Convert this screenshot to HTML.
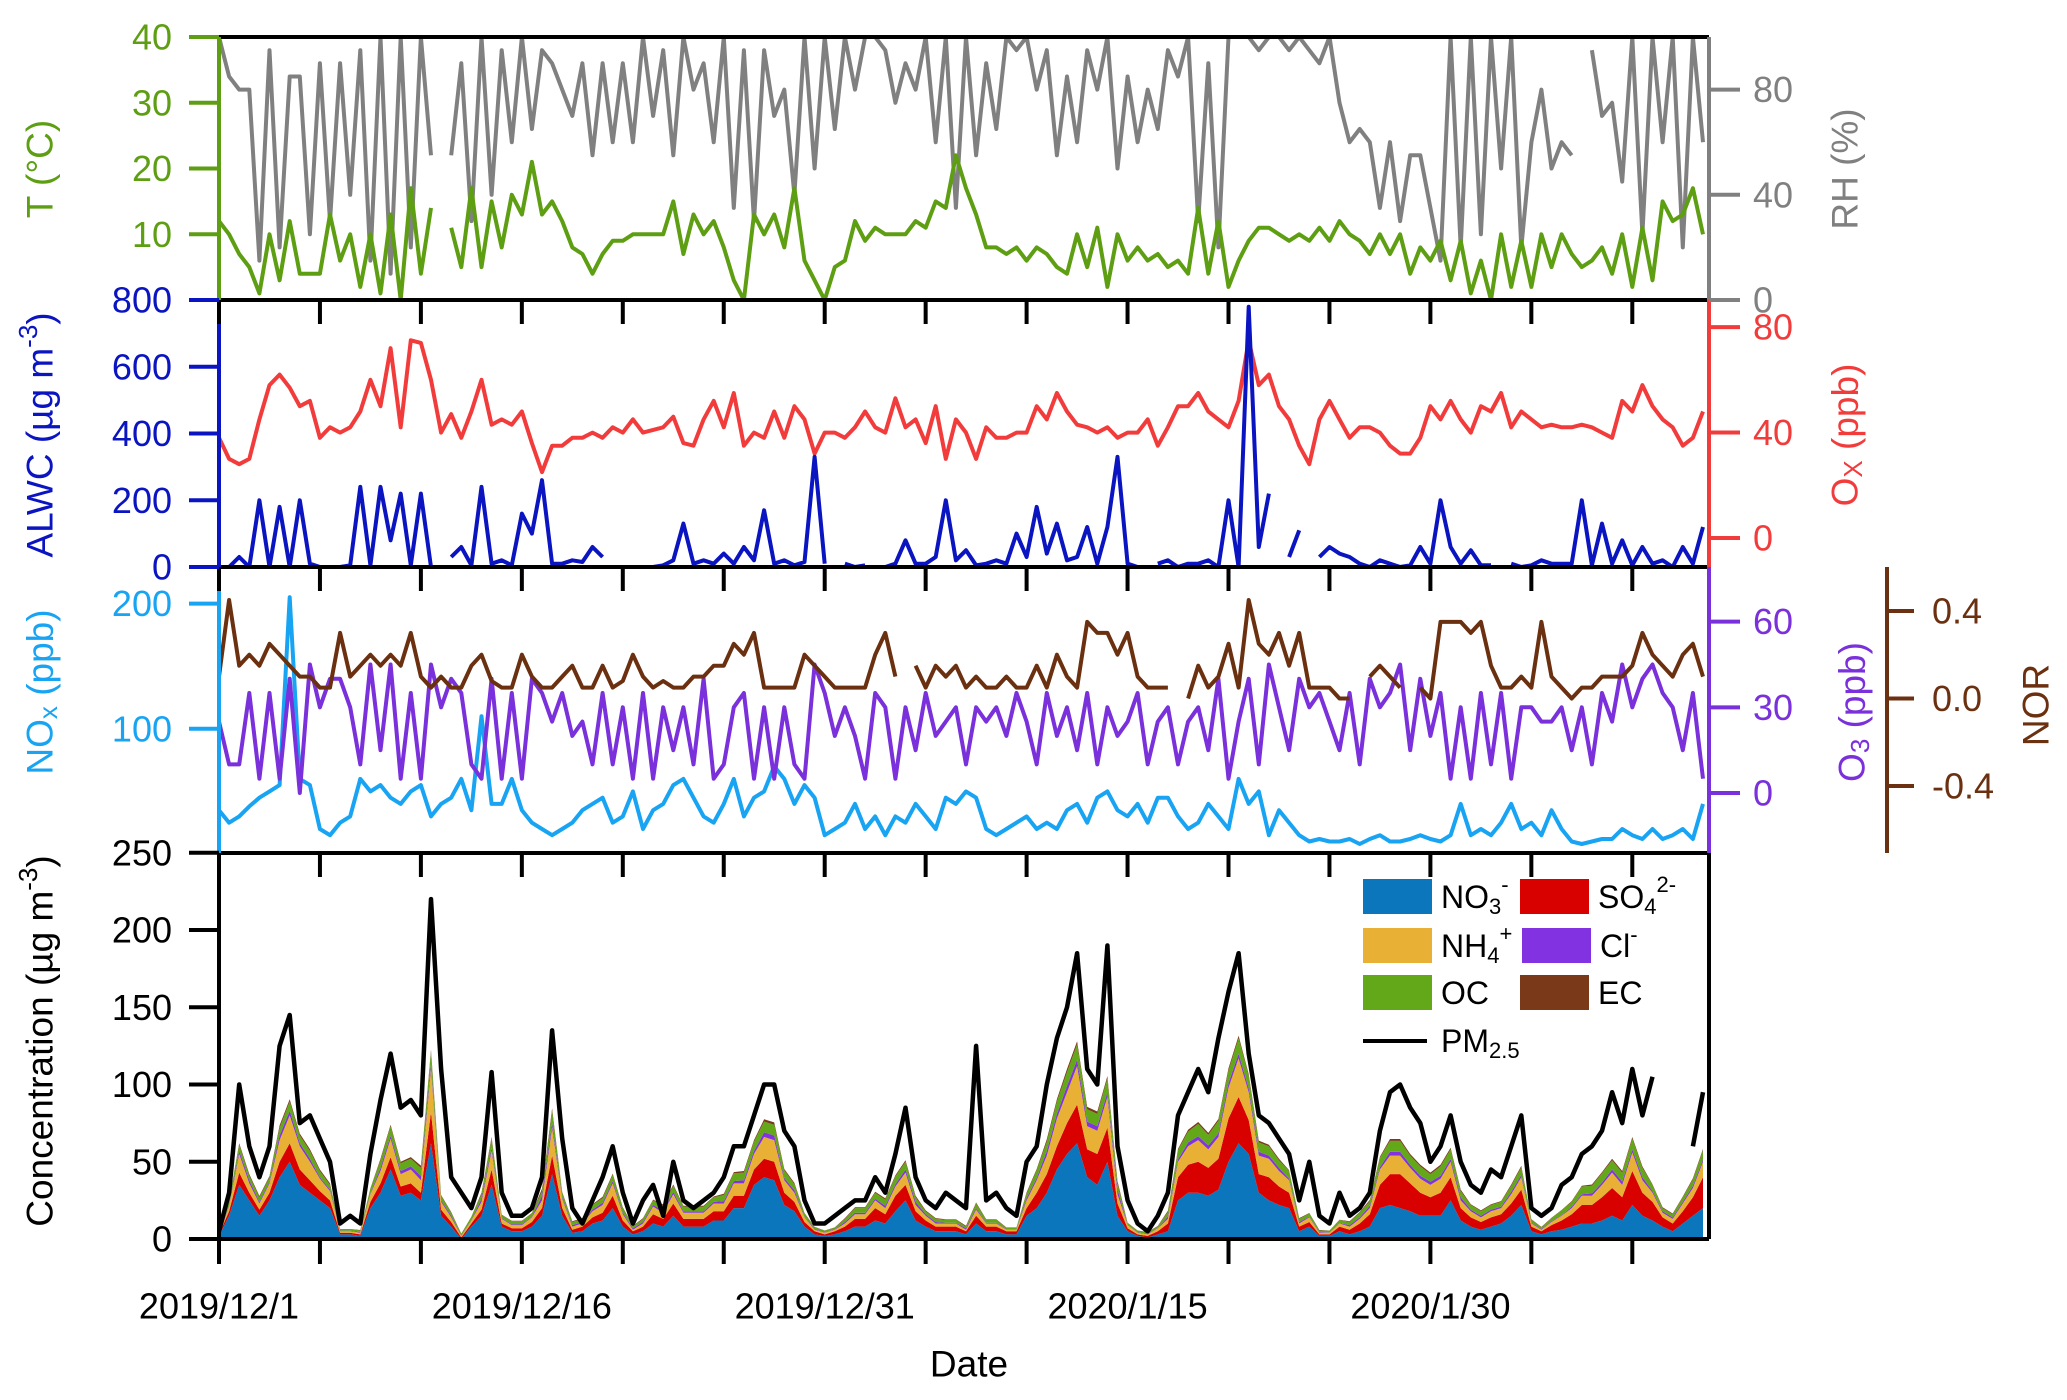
<!DOCTYPE html>
<html><head><meta charset="utf-8">
<style>
html,body{margin:0;padding:0;background:#fff;}
svg{display:block;font-family:"Liberation Sans",Arial,sans-serif;}
</style></head>
<body>
<svg id="chart" width="2067" height="1400" viewBox="0 0 2067 1400" xmlns="http://www.w3.org/2000/svg">
<defs>
<clipPath id="c1"><rect x="219" y="37" width="1490" height="263"/></clipPath>
<clipPath id="c2"><rect x="219" y="300" width="1490" height="267"/></clipPath>
<clipPath id="c3"><rect x="219" y="567" width="1490" height="286"/></clipPath>
<clipPath id="c4"><rect x="219" y="853" width="1490" height="386"/></clipPath>
</defs>
<g id="series"></g>
<g id="axes"></g>
</svg>
<script>
const tempC=[12,10,7,5,1,10,3,12,4,4,4,13,6,10,2,10,1,13,0,17,4,14,null,11,5,17,5,15,8,16,13,21,13,15,12,8,7,4,7,9,9,10,10,10,10,15,7,13,10,12,8,3,0,13,10,13,8,17,6,3,0,5,6,12,9,11,10,10,10,12,11,15,14,22,17,13,8,8,7,8,6,8,7,5,4,10,5,11,2,10,6,8,6,7,5,6,4,14,4,12,2,6,9,11,11,10,9,10,9,11,9,12,10,9,7,10,7,10,4,8,6,9,3,9,1,6,0,10,2,9,2,10,5,10,7,5,6,8,4,10,2,11,3,15,12,13,17,10];
const rh=[100,85,80,80,15,95,20,85,85,25,90,30,90,40,95,15,100,10,100,20,100,55,null,55,90,30,100,40,95,60,100,65,95,90,80,70,90,55,90,60,90,60,100,70,95,55,100,80,90,60,100,35,95,30,95,70,80,40,100,50,100,65,100,80,100,100,95,75,90,80,100,60,100,35,100,55,90,65,100,95,100,80,95,55,85,60,95,80,100,50,85,60,80,65,95,85,100,30,90,20,100,100,100,95,100,100,95,100,95,90,100,75,60,65,60,35,60,30,55,55,35,15,100,20,100,25,100,50,100,20,60,80,50,60,55,null,95,70,75,45,100,25,100,60,100,20,100,60];
const alwc=[0,0,30,0,200,0,180,0,200,10,0,0,0,5,240,5,240,80,220,5,220,0,null,30,60,5,240,10,20,5,160,100,260,10,10,20,15,60,30,null,10,null,null,0,5,20,130,10,20,10,40,10,60,20,170,10,20,5,15,330,10,null,10,0,5,null,0,10,80,10,10,30,200,20,50,5,10,20,10,100,30,180,40,130,20,30,120,10,120,330,10,0,null,10,20,0,10,10,20,0,200,0,780,60,220,null,30,110,null,30,60,40,30,10,0,20,10,0,5,60,10,200,60,10,50,5,5,null,10,0,5,20,10,10,10,200,5,130,10,80,5,60,10,20,0,60,10,120];
const ox=[38,30,28,30,45,58,62,57,50,52,38,42,40,42,48,60,50,72,42,75,74,60,40,47,38,48,60,43,45,43,48,36,25,35,35,38,38,40,38,42,40,45,40,41,42,46,36,35,45,52,42,55,35,40,38,48,38,50,45,32,40,40,38,42,48,42,40,53,42,45,36,50,30,45,40,30,42,38,38,40,40,50,45,55,48,43,42,40,42,38,40,40,45,35,42,50,50,55,48,45,42,52,75,58,62,50,45,35,28,45,52,45,38,42,42,40,35,32,32,38,50,45,52,45,40,50,48,55,42,48,45,42,43,42,42,43,42,40,38,52,48,58,50,45,42,35,38,48];
const nox=[35,25,30,38,45,50,55,205,60,55,20,15,25,30,60,50,55,45,40,50,55,30,40,45,60,35,110,40,40,60,35,25,20,15,20,25,35,40,45,25,30,50,20,35,40,55,60,45,30,25,40,60,30,45,50,70,60,40,55,45,15,20,25,40,20,30,15,30,25,40,30,20,45,40,50,45,20,15,20,25,30,20,25,20,35,40,25,45,50,35,30,40,25,45,45,30,20,25,40,30,20,60,40,50,15,35,25,15,10,12,10,10,12,8,12,15,10,10,12,15,12,10,15,40,15,20,15,25,40,20,25,15,35,20,10,8,10,12,12,20,15,12,20,12,15,20,12,40];
const o3=[25,10,10,35,5,35,5,40,0,45,30,40,40,30,10,45,15,45,5,35,5,45,30,40,35,10,5,40,5,35,5,40,35,25,35,20,25,10,35,10,30,5,35,5,30,15,30,10,40,5,10,30,35,5,30,5,30,10,5,45,35,20,30,20,5,35,30,5,30,15,35,20,25,30,10,30,25,30,20,35,25,10,35,20,30,15,35,10,30,20,25,35,10,25,30,10,25,30,15,40,5,25,40,10,45,30,15,40,30,35,25,15,35,10,40,30,35,45,15,40,20,35,5,30,5,35,10,35,5,30,30,25,25,30,15,30,10,35,25,45,30,40,45,35,30,15,35,5];
const nor=[0.1,0.45,0.15,0.2,0.15,0.25,0.2,0.15,0.1,0.1,0.05,0.05,0.3,0.1,0.15,0.2,0.15,0.2,0.15,0.3,0.1,0.05,0.1,0.05,0.05,0.15,0.2,0.08,0.05,0.05,0.2,0.1,0.05,0.05,0.1,0.15,0.05,0.05,0.15,0.05,0.08,0.2,0.1,0.05,0.08,0.05,0.05,0.1,0.1,0.15,0.15,0.25,0.2,0.3,0.05,0.05,0.05,0.05,0.2,0.15,0.1,0.05,0.05,0.05,0.05,0.2,0.3,0.1,null,0.15,0.05,0.15,0.1,0.15,0.05,0.1,0.05,0.05,0.1,0.05,0.05,0.15,0.05,0.2,0.1,0.05,0.35,0.3,0.3,0.2,0.3,0.1,0.05,0.05,0.05,null,0.0,0.15,0.05,0.1,0.25,0.05,0.45,0.25,0.2,0.3,0.15,0.3,0.05,0.05,0.05,0.0,0.0,null,0.1,0.15,0.1,0.05,null,0.05,0.0,0.35,0.35,0.35,0.3,0.35,0.15,0.05,0.05,0.1,0.05,0.35,0.1,0.05,0.0,0.05,0.05,0.1,0.1,0.1,0.15,0.3,0.2,0.15,0.1,0.2,0.25,0.1];
const pm25=[5,30,100,60,40,60,125,145,75,80,65,50,10,15,10,55,90,120,85,90,80,220,110,40,30,20,40,108,30,15,15,20,40,135,65,20,10,25,40,60,30,10,25,35,15,50,25,20,25,30,40,60,60,80,100,100,70,60,25,10,10,15,20,25,25,40,30,55,85,40,25,20,30,25,20,125,25,30,20,15,50,60,100,130,150,185,110,100,190,60,25,10,5,15,30,80,95,110,95,130,160,185,120,80,75,65,55,25,50,15,10,30,15,20,30,70,95,100,85,75,50,60,80,50,35,30,45,40,60,80,20,15,20,35,40,55,60,70,95,75,110,80,105,null,null,null,60,95];
const no3=[2,15,35,25,15,25,40,50,35,30,25,20,3,3,2,20,30,45,28,30,25,62,15,8,0,8,15,35,8,5,5,8,15,42,15,4,5,10,12,20,8,3,5,10,8,15,8,8,8,12,12,20,20,35,40,38,22,18,8,3,2,3,5,8,8,12,10,18,25,12,8,5,5,5,3,10,5,5,3,3,15,20,30,45,55,62,40,35,50,15,5,2,1,3,5,25,30,30,28,32,50,62,55,30,25,22,20,5,8,2,2,5,3,5,8,20,22,20,18,15,15,15,25,12,8,6,8,10,15,22,5,3,5,6,8,10,10,12,15,12,22,15,12,8,5,10,15,20];
const so4=[1,3,8,5,4,5,10,12,10,8,6,5,1,1,1,4,6,8,6,6,5,20,4,3,1,2,4,10,2,2,2,3,5,12,5,2,3,4,5,8,4,2,3,6,5,8,5,5,5,6,6,8,8,10,12,12,8,6,3,2,1,2,3,5,5,8,6,10,10,6,4,3,3,3,2,5,3,3,2,2,5,10,12,15,20,25,18,20,22,8,2,1,1,2,5,15,18,20,18,20,28,30,22,12,15,12,10,3,3,1,1,3,3,5,8,15,20,22,18,15,12,15,15,8,6,5,6,6,8,10,3,2,4,6,8,12,12,15,18,15,22,15,12,6,5,8,12,20];
const nh4=[0,3,12,6,4,6,14,18,15,12,8,6,1,1,1,5,8,12,8,9,8,28,5,3,1,2,5,12,3,2,2,3,5,18,6,2,2,4,5,8,4,1,2,5,4,6,4,4,4,5,5,8,8,10,14,14,8,6,3,1,1,1,2,3,3,5,4,6,8,4,3,2,2,2,1,4,2,2,1,1,5,8,12,18,20,25,15,15,20,6,2,1,1,2,3,10,12,14,12,14,20,25,18,12,12,10,8,2,3,1,1,2,2,3,4,10,12,12,10,9,8,9,10,5,4,3,4,4,6,8,2,1,2,3,4,6,6,8,10,8,12,8,6,3,3,5,6,10];
const oc=[1,3,4,3,3,3,5,6,5,5,4,3,1,1,1,3,5,6,5,5,5,8,3,2,1,2,3,6,2,2,2,2,3,8,3,2,2,3,3,4,3,1,2,3,3,4,3,3,3,3,4,5,5,6,7,7,5,4,2,1,1,1,2,3,3,4,4,5,5,3,2,2,2,2,1,3,2,2,1,1,3,5,6,8,9,10,8,8,9,4,1,1,1,1,3,6,7,8,7,8,8,10,8,6,6,5,5,2,2,1,1,2,2,3,3,6,7,7,6,6,5,6,6,4,3,3,3,3,4,5,2,1,2,3,3,5,5,6,6,6,7,6,4,2,2,3,4,6];
const clDaily=[0.5,2,1,3,2,1,0.3,0.5,2,2,3,1,0.3,2,0.5,0.5,3,1,1,1.5,1,1,1.5,1,1,1.5,2,3,1.5,0.5,0.3,1,1,1.5,2,1,0.5,1,0.5,0.3,1.5,3,4,3,3,0.3,0.3,1.5,2.5,2.5,3,2.5,2,1,0.5,0.3,1,1.5,2.5,2,2,2,1,1,1.5,0.5,0.5,1,1.5,2,2,1,1,1.5];
const ecDaily=[0.3,1,0.8,1.5,1.2,1,0.2,0.3,1,1,1.5,0.5,0.2,1,0.3,0.3,1.5,0.5,0.5,0.8,0.5,0.5,0.8,0.5,0.5,0.8,1,1.5,0.8,0.3,0.2,0.5,0.6,0.8,1,0.5,0.3,0.6,0.3,0.2,0.8,1.5,2,1.5,1.5,0.2,0.2,0.8,1.2,1.2,1.5,1.2,1,0.5,0.3,0.2,0.5,0.8,1.2,1,1,1,0.5,0.5,0.8,0.3,0.3,0.5,0.8,1,1,0.5,0.5,0.8];
const xTicks=[0,5,10,15,20,25,30,35,40,45,50,55,60,65,70];
const xTickLabels=["2019/12/1","2019/12/16","2019/12/31","2020/1/15","2020/1/30"];
const xLabelDays=[0,15,30,45,60];
const tTicks=[10,20,30,40];
const rhTicks=[0,40,80];
const alwcTicks=[0,200,400,600,800];
const oxTicks=[0,40,80];
const noxTicks=[100,200];
const o3Ticks=[0,30,60];
const norTicks=[-0.4,0.0,0.4];
const concTicks=[0,50,100,150,200,250];

const NS="http://www.w3.org/2000/svg";
const series=document.getElementById('series');
const axes=document.getElementById('axes');
const X0=219,X1=1709,PXD=20.19;
const x=t=>X0+t*PXD;
const yT=v=>300-v/40*263;
const yRH=v=>300-v/100*263;
const yA=v=>567-v/800*267;
const yOx=v=>538-2.636*v;
const yN=v=>854-1.252*v;
const yO3=v=>793-2.856*v;
const yNOR=v=>698.5-218.8*v;
const yC=v=>1239-1.545*v;

function mk(tag,attrs,parent){const e=document.createElementNS(NS,tag);for(const k in attrs)e.setAttribute(k,attrs[k]);parent.appendChild(e);return e;}
function linePath(arr,ys){let d='',pen=false;arr.forEach((v,i)=>{if(v===null){pen=false;return;}const px=x(i*0.5).toFixed(1),py=ys(v).toFixed(1);d+=(pen?'L':'M')+px+' '+py;pen=true;});return d;}
function drawLine(arr,ys,color,clip,name,w){const p=mk('path',{d:linePath(arr,ys),fill:'none',stroke:color,'stroke-width':w||4,'stroke-linejoin':'round','clip-path':'url(#'+clip+')'},series);


return p;}

const n=no3.length;
const layers=[
 {name:'no3-area',color:'#0b76bb',get:i=>no3[i]},
 {name:'so4-area',color:'#d90000',get:i=>so4[i]},
 {name:'nh4-area',color:'#e8b136',get:i=>nh4[i]},
 {name:'cl-area',color:'#8232e0',get:i=>clDaily[Math.floor(i/2)]},
 {name:'oc-area',color:'#62a818',get:i=>oc[i]},
 {name:'ec-area',color:'#7a3a1a',get:i=>ecDaily[Math.floor(i/2)]}
];
let base=new Array(n).fill(0);
layers.forEach(L=>{
 const top=base.map((b,i)=>b+L.get(i));
 let d='M'+x(0)+' '+yC(base[0]);
 for(let i=0;i<n;i++)d+='L'+x(i*0.5).toFixed(1)+' '+yC(top[i]).toFixed(1);
 for(let i=n-1;i>=0;i--)d+='L'+x(i*0.5).toFixed(1)+' '+yC(base[i]).toFixed(1);
 d+='Z';
 const p=mk('path',{d:d,fill:L.color,stroke:'none','clip-path':'url(#c4)'},series);
 
 
 base=top;
});

drawLine(rh,yRH,'#808080','c1','rh-line');
drawLine(tempC,yT,'#5e9e12','c1','temperature-line');
drawLine(ox,yOx,'#f23c3c','c2','ox-line');
drawLine(alwc,yA,'#0a14c0','c2','alwc-line');
drawLine(nox,yN,'#18a4f2','c3','nox-line');
drawLine(o3,yO3,'#7a30da','c3','o3-line');
drawLine(nor,yNOR,'#6b3010','c3','nor-line');
drawLine(pm25,yC,'#000','c4','pm25-line',4.5);

function ln(x1,y1,x2,y2,c,w,name){const l=mk('line',{x1:x1,y1:y1,x2:x2,y2:y2,stroke:c,'stroke-width':w||3},axes);


return l;}
function txt(s,xx,yy,c,anchor,size,name,rot){const t=mk('text',{x:xx,y:yy,fill:c,'font-size':size||36,'text-anchor':anchor||'middle','dominant-baseline':'central'},axes);
if(rot)t.setAttribute('transform','rotate(-90 '+xx+' '+yy+')');
t.innerHTML=s;


return t;}

ln(X0,37,X1,37,'#000',4,'top-border');
ln(X0,300,X1,300,'#000',4,'panel-divider-1');
ln(X0,567,X1,567,'#000',4,'panel-divider-2');
ln(X0,853,X1,853,'#000',4,'panel-divider-3');
ln(X0,1239,X1,1239,'#000',4,'x-axis-line');
ln(X0,37,X0,300,'#5e9e12',4,'t-axis-line');
ln(X0,300,X0,567,'#0a14c0',4,'alwc-axis-line');
ln(X0,567,X0,853,'#18a4f2',4,'nox-axis-line');
ln(X0,853,X0,1239,'#000',4,'conc-axis-line');
ln(X1,37,X1,300,'#808080',4,'rh-axis-line');
ln(X1,300,X1,567,'#f23c3c',4,'ox-axis-line');
ln(X1,567,X1,853,'#7a30da',4,'o3-axis-line');
ln(X1,853,X1,1239,'#000',4,'right-axis-line');
ln(1887,567,1887,853,'#6b3010',4,'nor-axis-line');

xTicks.forEach(d=>{const px=x(d);
 ln(px,300,px,324,'#000',4,'x-tick');
 ln(px,567,px,591,'#000',4,'x-tick');
 ln(px,853,px,877,'#000',4,'x-tick');
 ln(px,1239,px,1264,'#000',4,'x-tick');
});
xLabelDays.forEach((d,i)=>txt(xTickLabels[i],x(d),1306,'#000','middle',36,'x-tick-label'));
txt('Date',969,1364,'#000','middle',37,'x-axis-title');

const FS=36;
function leftTicks(ticks,ys,c,name){ticks.forEach(v=>{ln(189,ys(v),X0,ys(v),c,4,name+'-tick');txt(String(v),172,ys(v),c,'end',FS,name+'-tick-label');});}
function rightTicks(ticks,ys,c,name){ticks.forEach(v=>{ln(X1,ys(v),1740,ys(v),c,4,name+'-tick');txt(String(v),1753,ys(v),c,'start',FS,name+'-tick-label');});}
leftTicks(tTicks,yT,'#5e9e12','t');
ln(189,yT(0),X0,yT(0),'#5e9e12',4,'t-tick');
leftTicks(alwcTicks,yA,'#0a14c0','alwc');
leftTicks(noxTicks,yN,'#18a4f2','nox');
leftTicks(concTicks,yC,'#000','conc');
rightTicks(rhTicks,yRH,'#808080','rh');
rightTicks(oxTicks,yOx,'#f23c3c','ox');
rightTicks(o3Ticks,yO3,'#7a30da','o3');
norTicks.forEach(v=>{ln(1887,yNOR(v),1914,yNOR(v),'#6b3010',4,'nor-tick');txt(v.toFixed(1),1932,yNOR(v),'#6b3010','start',FS,'nor-tick-label');});

txt('T (°C)',40,169,'#5e9e12','middle',37,'t-axis-title',true);
txt('ALWC (µg m<tspan dy="-12" font-size="26">-3</tspan><tspan dy="12">)</tspan>',40,435,'#0a14c0','middle',37,'alwc-axis-title',true);
txt('NO<tspan dy="8" font-size="26">x</tspan><tspan dy="-8"> (ppb)</tspan>',40,692,'#18a4f2','middle',37,'nox-axis-title',true);
txt('Concentration (µg m<tspan dy="-12" font-size="26">-3</tspan><tspan dy="12">)</tspan>',40,1041,'#000','middle',37,'conc-axis-title',true);
txt('RH (%)',1845,169,'#808080','middle',37,'rh-axis-title',true);
txt('O<tspan dy="8" font-size="26">X</tspan><tspan dy="-8"> (ppb)</tspan>',1845,435,'#f23c3c','middle',37,'ox-axis-title',true);
txt('O<tspan dy="8" font-size="26">3</tspan><tspan dy="-8"> (ppb)</tspan>',1852,712,'#7a30da','middle',37,'o3-axis-title',true);
txt('NOR',2036,705,'#6b3010','middle',37,'nor-axis-title',true);

function legBox(x0,y0,c,label,name){const r=mk('rect',{x:x0,y:y0,width:69,height:35,fill:c},axes);


txt(label,x0+78,y0+18,'#000','start',32,name+'-label');}
legBox(1363,879,'#0b76bb','NO<tspan dy="9" font-size="22">3</tspan><tspan dy="-22" font-size="22">-</tspan>','legend-no3');
legBox(1520,879,'#d90000','SO<tspan dy="9" font-size="22">4</tspan><tspan dy="-22" font-size="22">2-</tspan>','legend-so4');
legBox(1363,928,'#e8b136','NH<tspan dy="9" font-size="22">4</tspan><tspan dy="-22" font-size="22">+</tspan>','legend-nh4');
legBox(1522,928,'#8232e0','Cl<tspan dy="-12" font-size="22">-</tspan>','legend-cl');
legBox(1363,975,'#62a818','OC','legend-oc');
legBox(1520,975,'#7a3a1a','EC','legend-ec');
ln(1363,1041,1427,1041,'#000',4,'legend-pm25-line');
txt('PM<tspan dy="9" font-size="22">2.5</tspan>',1441,1041,'#000','start',32,'legend-pm25-label');
</script>
</body></html>
